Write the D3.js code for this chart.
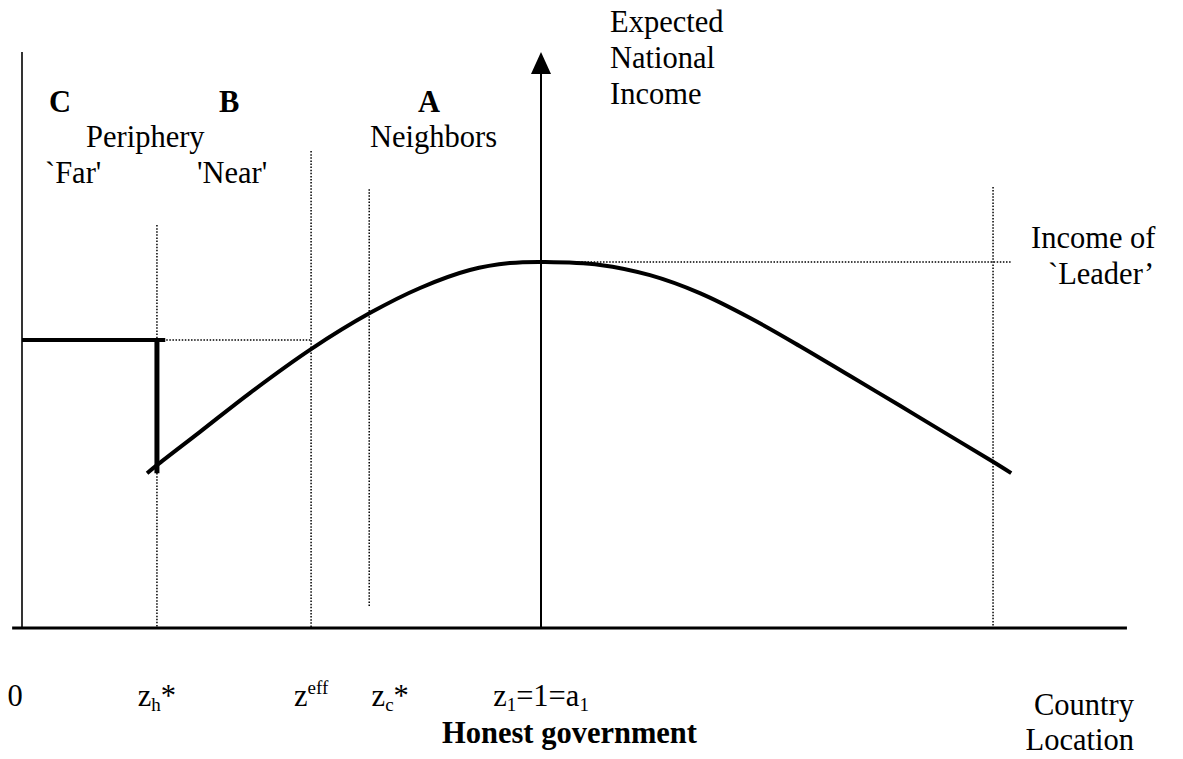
<!DOCTYPE html>
<html>
<head>
<meta charset="utf-8">
<script src="https://cdn.jsdelivr.net/npm/d3@7"></script>
<style>
  body { margin: 0; background: #fff; }
  svg { display: block; font-family: "Liberation Serif", "Times New Roman", serif; }
</style>
</head>
<body>
<svg id="chart" width="1183" height="759"></svg>
<script>
// curve of expected national income (location z, income)
const curveZ = [0.241, 0.260, 0.343, 0.439, 0.557, 0.671, 0.767, 0.863, 0.940, 1.008,
  1.114, 1.210, 1.306, 1.403, 1.499, 1.595, 1.692, 1.788, 1.871, 1.906];
const curveIncome = [0.423, 0.445, 0.536, 0.642, 0.762, 0.861, 0.929, 0.978, 0.997, 1.0,
  0.992, 0.964, 0.915, 0.847, 0.770, 0.689, 0.607, 0.525, 0.454, 0.423];

// dishonest-government flat income for the far periphery
const stepZ = [0, 0.276];
const stepIncome = 0.787;
const stepDropBottom = 0.423;

// key locations on the axis
const zH = 0.260, zEff = 0.557, zC = 0.669, z1 = 1.0, zLeader = 1.871;
const leaderIncome = 1.0;

// dotted guides: location, top and bottom income
const guideZ = [zH, zEff, zC, zLeader];
const guideTop = [1.101, 1.303, 1.199, 1.205];
const guideBottom = [0, 0, 0.055, 0];

// tick labels under the axis
const tickZ = [0, zH, zEff, zC, z1];
const tickParts = [
  [["0", ""]],
  [["z", ""], ["h", "sub"], ["*", ""]],
  [["z", ""], ["eff", "sup"]],
  [["z", ""], ["c", "sub"], ["*", ""]],
  [["z", ""], ["1", "sub"], ["=1=a", ""], ["1", "sub"]]
];
const tickShift = [-7, 0, 0, 21, 0];

const svg = d3.select("#chart");

const x = d3.scaleLinear().domain([0, 1]).range([22, 541]);
const y = d3.scaleLinear().domain([0, 1]).range([628, 262]);
const yTop = 1.574;

const dotted = (sel) => sel.attr("stroke", "#000").attr("stroke-width", 1.5)
  .attr("stroke-dasharray", "1.5,1.6").attr("fill", "none");

// dotted guides
svg.selectAll(".guide")
  .data(guideZ)
  .enter()
  .append("line")
  .attr("class", "guide")
  .attr("x1", (d) => x(d)).attr("x2", (d) => x(d))
  .attr("y1", (d, i) => y(guideTop[i]))
  .attr("y2", (d, i) => y(guideBottom[i]))
  .call(dotted);

svg.append("line")
  .attr("x1", x(zH)).attr("x2", x(zEff))
  .attr("y1", y(stepIncome)).attr("y2", y(stepIncome))
  .call(dotted);

svg.append("line")
  .attr("x1", x(z1)).attr("x2", x(1.906))
  .attr("y1", y(leaderIncome)).attr("y2", y(leaderIncome))
  .call(dotted);

// axes
svg.append("line")
  .attr("x1", x(0)).attr("x2", x(0))
  .attr("y1", y(0)).attr("y2", y(yTop))
  .attr("stroke", "#000").attr("stroke-width", 1.6);

svg.append("line")
  .attr("x1", x(-0.019)).attr("x2", x(2.129))
  .attr("y1", y(0)).attr("y2", y(0))
  .attr("stroke", "#000").attr("stroke-width", 3);

svg.append("line")
  .attr("x1", x(z1)).attr("x2", x(z1))
  .attr("y1", y(0)).attr("y2", y(yTop) + 18)
  .attr("stroke", "#000").attr("stroke-width", 2);

svg.append("path")
  .attr("d", `M${x(z1)},${y(yTop)} L${x(z1) - 10},${y(yTop) + 22} L${x(z1) + 10},${y(yTop) + 22} Z`)
  .attr("fill", "#000");

// income curve
const line = d3.line()
  .x((d, i) => x(curveZ[i]))
  .y((d) => y(d))
  .curve(d3.curveCatmullRom);

svg.append("path")
  .datum(curveIncome)
  .attr("d", line)
  .attr("fill", "none")
  .attr("stroke", "#000")
  .attr("stroke-width", 4);

// step for the far periphery
svg.append("line")
  .attr("x1", x(stepZ[0])).attr("x2", x(stepZ[1]))
  .attr("y1", y(stepIncome)).attr("y2", y(stepIncome))
  .attr("stroke", "#000").attr("stroke-width", 4);

svg.append("line")
  .attr("x1", x(zH)).attr("x2", x(zH))
  .attr("y1", y(stepIncome) - 2).attr("y2", y(stepDropBottom))
  .attr("stroke", "#000").attr("stroke-width", 5);

// text
const fs = 30.5;
const label = (txt, px, py, opts = {}) => svg.append("text")
  .attr("x", px).attr("y", py)
  .attr("font-size", opts.size || fs)
  .attr("font-weight", opts.bold ? "bold" : "normal")
  .attr("text-anchor", opts.anchor || "start")
  .text(txt);

label("C", 49, 112, { bold: true });
label("B", 219, 112, { bold: true });
label("A", 418, 112, { bold: true });
label("Periphery", 86, 147);
label("Neighbors", 370, 147);
label("`Far'", 45, 183);
label("'Near'", 197, 183);

label("Expected", 610, 32);
label("National", 610, 68);
label("Income", 610, 104);

label("Income of", 1031, 248);
label("`Leader’", 1048, 284);

label("Country", 1134, 715, { anchor: "end" });
label("Location", 1134, 750, { anchor: "end" });
label("Honest government", 442, 743, { bold: true });

// tick labels with sub/superscripts
const ticks = svg.selectAll(".tick")
  .data(tickZ)
  .enter()
  .append("text")
  .attr("class", "tick")
  .attr("x", (d, i) => x(d) + tickShift[i])
  .attr("y", 706)
  .attr("font-size", fs)
  .attr("text-anchor", "middle");

ticks.each(function (d, i) {
  const t = d3.select(this);
  let shift = 0;
  tickParts[i].forEach(([txt, kind]) => {
    const target = kind === "sub" ? 5 : kind === "sup" ? -12 : 0;
    t.append("tspan")
      .attr("dy", target - shift)
      .attr("font-size", kind ? 19 : fs)
      .text(txt);
    shift = target;
  });
});
</script>
</body>
</html>
